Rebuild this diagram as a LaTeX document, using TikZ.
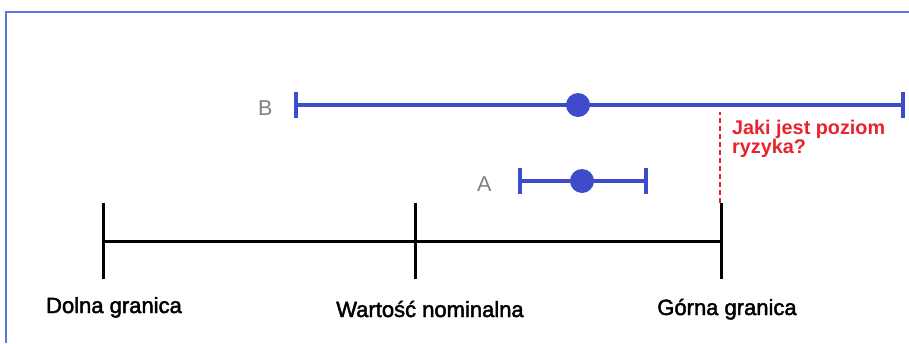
\documentclass[tikz,border=0pt]{standalone}
\usepackage{fontspec}
\setmainfont{Liberation Sans}
\newfontfamily\labfont[FakeBold=2]{Liberation Sans}
\definecolor{barblue}{RGB}{62,76,204}
\definecolor{riskred}{RGB}{232,35,43}
\definecolor{framblue}{RGB}{90,120,220}
\definecolor{labgray}{RGB}{128,128,128}
\begin{document}
\begin{tikzpicture}[x=1pt,y=-1pt,
  bar/.style={draw=barblue,line width=4pt},
  dotm/.style={circle,fill=barblue,inner sep=0pt,minimum size=24pt},
  axisline/.style={draw=black,line width=3pt},
  lab/.style={font=\labfont\fontsize{22}{24}\selectfont,anchor=base,inner sep=0pt},
  glab/.style={font=\fontsize{21.5}{23}\selectfont,text=labgray,anchor=base west,inner sep=0pt},
  risk/.style={font=\fontsize{19.8}{18.5}\selectfont\bfseries,text=riskred,align=left,anchor=north west,inner sep=0pt}
]
\useasboundingbox (0,0) rectangle (909,343);
\fill[white] (0,0) rectangle (909,343);
% frame
\draw[framblue,line width=2pt] (6,343) -- (6,12) -- (909,12);

% B interval
\coordinate (B1) at (296,105);
\coordinate (B2) at (903,105);
\draw[bar] (B1) -- (B2);
\draw[bar] ([yshift=-13]B1) -- ([yshift=13]B1);
\draw[bar] ([yshift=-13]B2) -- ([yshift=13]B2);
\node[dotm] (Bd) at (578,105) {};
\node[glab] (Bl) at (258,115) {B};

% A interval
\coordinate (A1) at (520,181);
\coordinate (A2) at (646,181);
\draw[bar] (A1) -- (A2);
\draw[bar] ([yshift=-13]A1) -- ([yshift=13]A1);
\draw[bar] ([yshift=-13]A2) -- ([yshift=13]A2);
\node[dotm] (Ad) at (582,181) {};
\node[glab] (Al) at (477,191) {A};

% scale
\coordinate (L) at (103,241);
\coordinate (N) at (415,241);
\coordinate (U) at (721,241);
\draw[axisline] (L) -- (U);
\foreach \p in {L,N,U} \draw[axisline] ([yshift=-38]\p) -- ([yshift=38]\p);

% risk line
\coordinate (R) at (720,112);
\draw[riskred,line width=1.4pt,dash pattern=on 5pt off 3pt] ([xshift=-1,yshift=38]U) -- (R);
\node[risk] (Rt) at (732,120) {Jaki jest poziom\\ryzyka?};

% labels
\node[lab] (Ll) at (114,313) {Dolna granica};
\node[lab] (Nl) at (430,317) {Wartość nominalna};
\node[lab] (Ul) at (727,315) {Górna granica};
\end{tikzpicture}
\end{document}
